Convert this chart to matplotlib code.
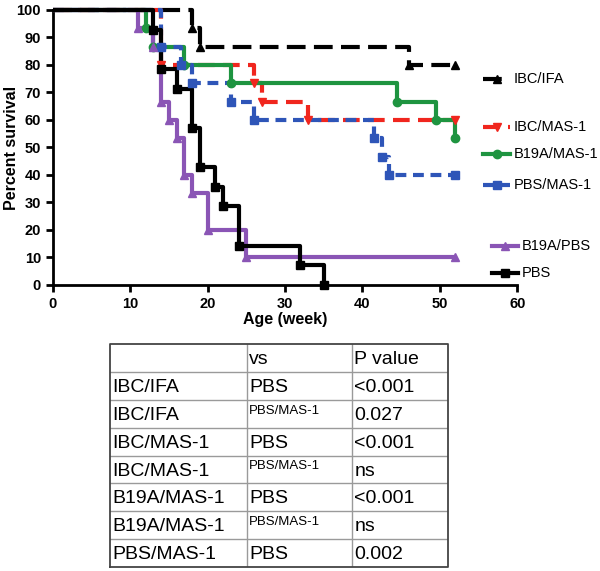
import matplotlib
matplotlib.use("Agg")
import matplotlib.pyplot as plt

plt.rcParams['font.family'] = ['Liberation Sans', 'DejaVu Sans']

# survival curves (week, percent surviving)
ibc_ifa_t = [0, 18, 19, 46, 52]
ibc_ifa_s = [100, 93.3, 86.7, 80, 80]

ibc_mas_t = [0, 14, 26, 27, 33, 52]
ibc_mas_s = [100, 80, 73.3, 66.7, 60, 60]

b19a_mas_t = [0, 12, 13, 17, 23, 44.5, 49.5, 52]
b19a_mas_s = [100, 93.3, 86.7, 80, 73.3, 66.7, 60, 53.3]

pbs_mas_t = [0, 14, 16.5, 18, 23, 26, 41.5, 42.5, 43.5, 52]
pbs_mas_s = [100, 86.7, 80, 73.3, 66.7, 60, 53.3, 46.7, 40, 40]

b19a_pbs_t = [0, 11, 13, 14, 15, 16, 17, 18, 20, 25, 52]
b19a_pbs_s = [100, 93.3, 86.7, 66.7, 60, 53.3, 40, 33.3, 20, 10, 10]

pbs_t = [0, 13, 14, 16, 18, 19, 21, 22, 24, 32, 35]
pbs_s = [100, 92.9, 78.6, 71.4, 57.1, 42.9, 35.7, 28.6, 14.3, 7.1, 0]

groups = ["IBC/IFA", "IBC/MAS-1", "B19A/MAS-1", "PBS/MAS-1", "B19A/PBS", "PBS"]
colors = ["black", "#f0261e", "#1e9440", "#2e55b8", "#8a55b5", "black"]
markers = ["^", "v", "o", "s", "^", "s"]
dashes = [(4.5, 2), (4, 2), None, (2.6, 1.6), None, None]
curves = [(ibc_ifa_t, ibc_ifa_s), (ibc_mas_t, ibc_mas_s), (b19a_mas_t, b19a_mas_s),
          (pbs_mas_t, pbs_mas_s), (b19a_pbs_t, b19a_pbs_s), (pbs_t, pbs_s)]
# legend rows (axes fraction y)
legend_y = [0.75, 0.576, 0.476, 0.364, 0.14, 0.044]

# p value table
row_groups = ["IBC/IFA", "IBC/IFA", "IBC/MAS-1", "IBC/MAS-1", "B19A/MAS-1", "B19A/MAS-1", "PBS/MAS-1"]
row_vs = ["PBS", "PBS/MAS-1", "PBS", "PBS/MAS-1", "PBS", "PBS/MAS-1", "PBS"]
row_p = ["<0.001", "0.027", "<0.001", "ns", "<0.001", "ns", "0.002"]

fig = plt.figure(figsize=(6, 5.71), dpi=100)
ax = fig.add_axes([0.088, 0.501, 0.774, 0.4815])

for (t, s), c, m, d in zip(curves, colors, markers, dashes):
    line, = ax.step(t, s, where='post', color=c, lw=3, solid_capstyle='butt', clip_on=False, zorder=3)
    if d is not None:
        line.set_dashes(d)
    ax.plot(t[1:], s[1:], linestyle='none', marker=m, color=c, ms=6, clip_on=False, zorder=4)

# legend drawn beside curve ends
for i, (g, c, m, d) in enumerate(zip(groups, colors, markers, dashes)):
    y = legend_y[i]
    if i < 4:
        x0, x1, xt = 0.927, 0.985, 0.992
    else:
        x0, x1, xt = 0.946, 1.002, 1.01
    ln, = ax.plot([x0, x1], [y, y], transform=ax.transAxes, color=c, lw=3, clip_on=False)
    if d is not None:
        ln.set_dashes(d)
    ax.plot([(x0 + x1) / 2], [y], transform=ax.transAxes, marker=m, color=c, ms=6, clip_on=False)
    ax.text(xt, y, g, transform=ax.transAxes, fontsize=10.5, va='center', ha='left')

ax.set_xlim(0, 60)
ax.set_ylim(0, 100)
ax.set_xticks(range(0, 61, 10))
ax.set_yticks(range(0, 101, 10))
for sp in ['top', 'right']:
    ax.spines[sp].set_visible(False)
for sp in ['left', 'bottom']:
    ax.spines[sp].set_linewidth(2)
ax.tick_params(width=2, length=5, labelsize=10.5)
for lab in ax.get_xticklabels() + ax.get_yticklabels():
    lab.set_fontweight('bold')
ax.set_xlabel("Age (week)", fontsize=11.5, fontweight='bold', labelpad=1)
ax.set_ylabel("Percent survival", fontsize=11.5, fontweight='bold')
ax.yaxis.set_label_coords(-0.072, 0.5)

# table
tax = fig.add_axes([0.1833, 0.007, 0.5633, 0.3905])
tax.set_xlim(0, 1)
tax.set_ylim(0, 1)
tax.axis('off')
nrows = len(row_groups) + 1
col_x = [0, 0.404, 0.715, 1]
h = 1.0 / nrows
for k in range(1, nrows):
    tax.plot([0, 1], [k * h, k * h], color='#9a9a9a', lw=1)
for xc in col_x[1:-1]:
    tax.plot([xc, xc], [0, 1], color='#9a9a9a', lw=1)
tax.plot([0, 1, 1, 0, 0], [0, 0, 1, 1, 0], color='#444444', lw=1.3, clip_on=False)

def cell_text(r, c, s, small=False):
    top = 1 - r * h
    x = col_x[c] + 0.008
    if small:
        tax.text(x, top - 0.022, s, fontsize=9.5, va='top', ha='left')
    else:
        tax.text(x, top - h * 0.56, s, fontsize=14, va='center', ha='left')

cell_text(0, 1, "vs")
cell_text(0, 2, "P value")
for i in range(len(row_groups)):
    cell_text(i + 1, 0, row_groups[i])
    cell_text(i + 1, 1, row_vs[i], small=(row_vs[i] != "PBS"))
    cell_text(i + 1, 2, row_p[i])

fig.savefig("out.png", dpi=100)
